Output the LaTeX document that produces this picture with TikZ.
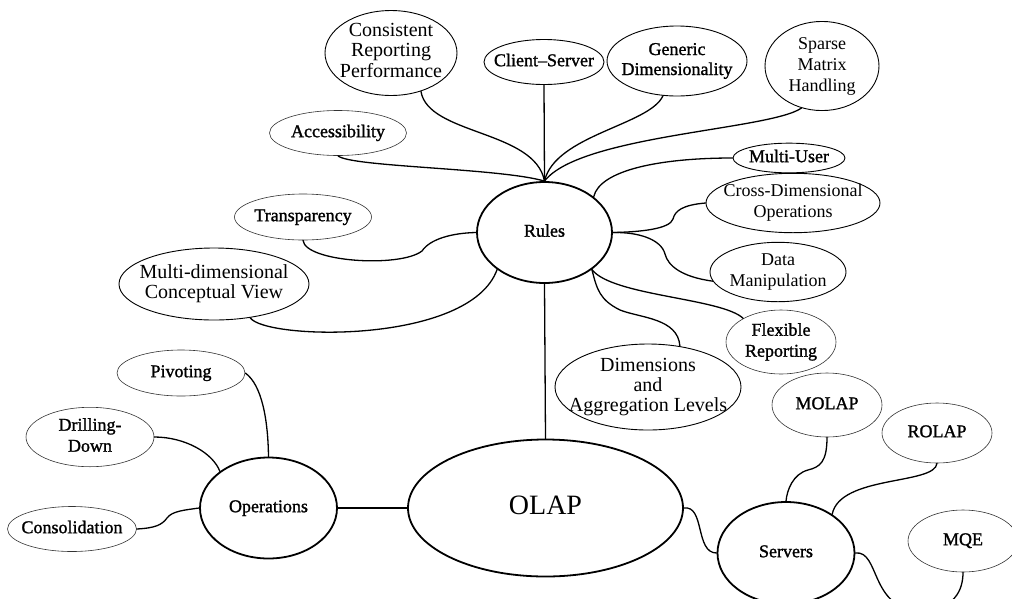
\documentclass[tikz,border=0pt]{standalone}
\usepackage{fontspec}
\setmainfont{Liberation Serif}
\newfontfamily\heavyserif[FakeBold=1.3,Ligatures=TeX]{Liberation Serif}
\usetikzlibrary{shapes.geometric}
% centred multi-line label that does not widen its ellipse
\newcommand{\ovtxt}[1]{\makebox[0pt]{\begin{tabular}{@{}c@{}}#1\end{tabular}}}
\begin{document}
\begin{tikzpicture}[x=1pt,y=-1pt,
  bub/.style={ellipse, draw, inner sep=0pt, font=\heavyserif\fontsize{18}{21}\selectfont},
  hub/.style={bub, line width=1.8pt},
  mid/.style={bub, line width=0.9pt},
  leaf/.style={bub, line width=0.6pt, draw=black!80},
  big/.style={font=\rmfamily\fontsize{20}{20}\selectfont},
  sz/.style 2 args={minimum width=#1pt, minimum height=#2pt},
  link/.style={line width=1.3pt, line cap=round}]

\fill[white] (0,0) rectangle (1012,598);
\useasboundingbox (0,0) rectangle (1012,598);
\clip (0,0) rectangle (1012,598);

% central hubs
\node[hub, sz={135}{101}] (rules) at (544.5,232.5) {\ovtxt{Rules}};
\node[hub, sz={275}{137}, font=\rmfamily\fontsize{28}{30}\selectfont] (olap) at (545.5,508) {\ovtxt{OLAP}};
\node[hub, sz={137}{101}] (ops) at (268.5,508) {\ovtxt{Operations}};
\node[hub, sz={137}{102}] (servers) at (786,553) {\ovtxt{Servers}};

% rules
\node[mid, big, sz={132}{84}] (crp) at (391,53) {\ovtxt{Consistent\\Reporting\\Performance}};
\node[mid, sz={120}{45}] (cs) at (544,62) {\ovtxt{Client–Server}};
\node[mid, sz={140}{70}, font=\heavyserif\fontsize{18}{20}\selectfont] (gen) at (677,61) {\ovtxt{Generic\\Dimensionality}};
\node[mid, sz={114}{88}, font=\rmfamily\fontsize{18}{21}\selectfont] (sparse) at (822,66) {\ovtxt{Sparse\\Matrix\\Handling}};
\node[leaf, sz={137}{45}] (acc) at (338,133) {\ovtxt{Accessibility}};
\node[mid, sz={112}{28}] (mu) at (789,158) {\ovtxt{Multi-User}};
\node[mid, sz={174}{58}, font=\rmfamily\fontsize{18}{21}\selectfont] (cross) at (793,203) {\ovtxt{Cross-Dimensional\\Operations}};
\node[leaf, sz={137}{46}] (transp) at (303,217) {\ovtxt{Transparency}};
\node[mid, sz={136}{56}, font=\rmfamily\fontsize{18}{21}\selectfont] (data) at (778,272) {\ovtxt{Data\\Manipulation}};
\node[mid, big, sz={190}{72}] (mdcv) at (214,284) {\ovtxt{Multi-dimensional\\Conceptual View}};
\node[leaf, sz={110}{64}] (flex) at (781,342) {\ovtxt{Flexible\\Reporting}};
\node[mid, big, sz={186}{86}] (dim) at (648,387) {\ovtxt{Dimensions\\and\\Aggregation Levels}};

% operations
\node[leaf, sz={128}{46}] (piv) at (181,373) {\ovtxt{Pivoting}};
\node[leaf, sz={128}{45}] (drill) at (90,437) {\ovtxt{Drilling-\\Down}};
\node[leaf, sz={129}{45}] (cons) at (72,529) {\ovtxt{Consolidation}};

% servers
\node[leaf, sz={110}{64}] (molap) at (827,405) {\ovtxt{MOLAP}};
\node[leaf, sz={110}{60}] (rolap) at (937,433) {\ovtxt{ROLAP}};
\node[leaf, sz={110}{62}] (mqe) at (963,541) {\ovtxt{MQE}};

% connectors into Rules
\draw[link] (acc.south) .. controls (350,167) and (500,168) .. (rules.north);
\draw[link] (crp.-52) .. controls (428,135) and (535,130) .. (rules.north);
\draw[link] (cs.south) -- (rules.north);
\draw[link] (gen.-112) .. controls (650,125) and (555,135) .. (rules.north);
\draw[link] (sparse.-116) .. controls (770,130) and (580,135) .. (rules.north);
\draw[link] (mu.west) .. controls (660,158) and (600,170) .. (rules.36);
\draw[link] (cross.west) .. controls (682,205) and (675,211) .. (673,219)
  .. controls (670,229) and (640,232) .. (rules.east);
\draw[link] (data.188) .. controls (682,277) and (668,266) .. (665,254)
  .. controls (661,239) and (638,232) .. (rules.east);
\draw[link] (flex.148) .. controls (722,298) and (612,296) .. (rules.-38);
\draw[link] (dim.52) .. controls (678,318) and (640,318) .. (620,310)
  .. controls (600,300) and (597,290) .. (rules.-38);
\draw[link] (transp.south) .. controls (305,262) and (400,268) .. (422,251)
  .. controls (430,239) and (452,233) .. (rules.west);
\draw[link] (mdcv.-43) .. controls (265,340) and (470,345) .. (rules.218);
\draw[link] (rules.south) -- (olap.north);

% connectors into Operations
\draw[link] (piv.east) .. controls (262,385) and (268,420) .. (ops.north);
\draw[link] (drill.east) .. controls (185,437) and (213,453) .. (ops.143);
\draw[link] (cons.east) .. controls (155,528) and (162,525) .. (167,518)
  .. controls (172,511) and (185,510) .. (ops.west);
\draw[link] (ops.east) -- (olap.west);

% connectors into Servers
\draw[link] (olap.east) .. controls (705,505) and (695,553) .. (servers.west);
\draw[link] (molap.south) .. controls (827,462) and (820,467) .. (808,470)
  .. controls (793,474) and (787,490) .. (servers.north);
\draw[link] (rolap.south) .. controls (935,485) and (840,475) .. (servers.40);
\draw[link] (servers.east) .. controls (880,550) and (870,610) .. (920,610)
  .. controls (955,610) and (963,590) .. (mqe.south);
\end{tikzpicture}
\end{document}
